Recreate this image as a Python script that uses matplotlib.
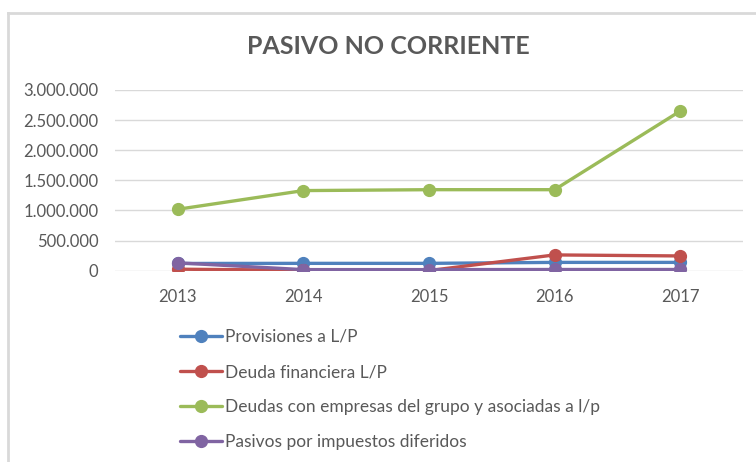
import numpy as np
import matplotlib.pyplot as plt
from matplotlib.ticker import FuncFormatter
from matplotlib.lines import Line2D

years = ['2013', '2014', '2015', '2016', '2017']
provisiones = [120000, 122000, 122000, 138000, 138000]
deuda_financiera = [25000, 8000, 2000, 262000, 245000]
deudas_grupo = [1020000, 1330000, 1345000, 1345000, 2650000]
pasivos_impuestos = [130000, 18000, 18000, 20000, 20000]

series_names = ['Provisiones a L/P', 'Deuda financiera L/P',
                'Deudas con empresas del grupo y asociadas a l/p',
                'Pasivos por impuestos diferidos']
colors = ['#4F81BD', '#C0504D', '#9BBB59', '#8064A2']

plt.rcParams['font.family'] = ['Lato', 'DejaVu Sans']

W, H = 756, 462
fig = plt.figure(figsize=(W / 100, H / 100), dpi=100)
fig.patch.set_facecolor('white')

# outer chart border (only top and left visible)
fig.add_artist(Line2D([7.5 / W, 7.5 / W], [0, 1 - 13 / H], transform=fig.transFigure,
                      color='#D9D9D9', lw=2))
fig.add_artist(Line2D([7.5 / W, 1], [1 - 13 / H, 1 - 13 / H], transform=fig.transFigure,
                      color='#D9D9D9', lw=2))

left, right, top, bottom = 115, 743, 90, 270.7
ax = fig.add_axes([left / W, 1 - bottom / H, (right - left) / W, (bottom - top) / H])

x = np.arange(len(years))
handles = []
for vals, name, c in zip([provisiones, deuda_financiera, deudas_grupo, pasivos_impuestos],
                         series_names, colors):
    h, = ax.plot(x, vals, color=c, lw=2.4, marker='o', markersize=8.5, label=name,
                 solid_capstyle='round', zorder=3)
    handles.append(h)

ax.set_xlim(-0.5, len(years) - 0.5)
ax.set_ylim(0, 3000000)
ax.set_yticks(np.arange(0, 3000001, 500000))
ax.yaxis.set_major_formatter(FuncFormatter(lambda v, p: f'{int(v):,}'.replace(',', '.')))
ax.set_xticks(x)
ax.set_xticklabels(years)
ax.grid(axis='y', color='#D9D9D9', lw=1)
ax.set_axisbelow(True)
for s in ax.spines.values():
    s.set_visible(False)
ax.tick_params(length=0, labelsize=12, labelcolor='#595959')
ax.tick_params(axis='y', pad=12)
ax.tick_params(axis='x', pad=13)

fig.text(388 / W, 1 - 47 / H, 'PASIVO NO CORRIENTE', ha='center', va='center',
         fontsize=18, fontweight='bold', color='#595959')

leg = fig.legend(handles=handles, loc='upper left', bbox_to_anchor=(180 / W, 1 - 329 / H),
                 frameon=False, fontsize=12.5, handlelength=2.4, handletextpad=0.2,
                 labelspacing=1.1, borderaxespad=0, borderpad=0)
for t in leg.get_texts():
    t.set_color('#595959')

fig.savefig('out.png', dpi=100)
